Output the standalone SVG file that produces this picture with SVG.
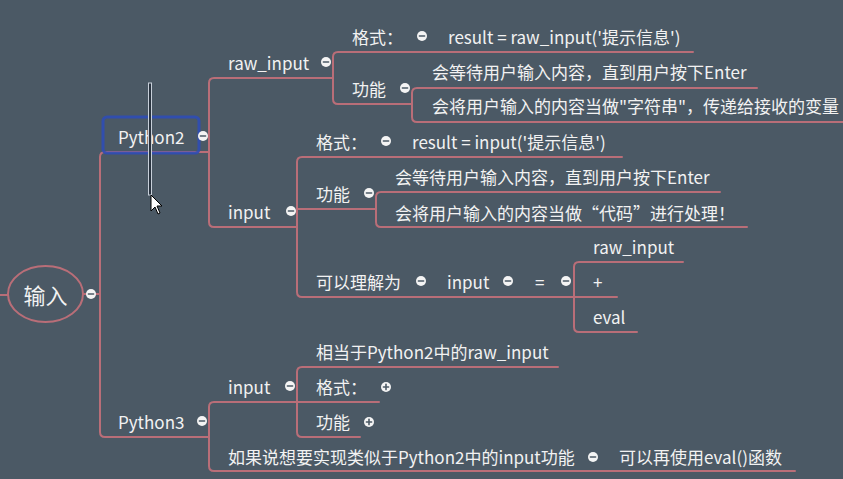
<svg xmlns="http://www.w3.org/2000/svg" width="843" height="479" viewBox="0 0 843 479">
<defs>
<style>
.bg{fill:#4b5965}
.ln{fill:none;stroke:#b96e78;stroke-width:2;stroke-linecap:round}
.t{font-family:"Noto Sans CJK SC","Noto Sans",sans-serif;font-size:17px;fill:#f2f2f2;dominant-baseline:central}
.root{font-size:22px;text-anchor:middle}
.dot{fill:#f4f4f4}
.mk{stroke:#4b5965;stroke-width:1.6;stroke-linecap:round}
</style>
<g id="minus"><circle class="dot" r="5"/><line class="mk" x1="-2.6" y1="0" x2="2.6" y2="0"/></g>
<g id="plus"><circle class="dot" r="5"/><line class="mk" x1="-2.6" y1="0" x2="2.6" y2="0"/><line class="mk" x1="0" y1="-2.6" x2="0" y2="2.6"/></g>
</defs>
<rect class="bg" x="0" y="0" width="843" height="479"/>

<g id="connectors">
<path class="ln" d="M0,295 H8"/>
<path class="ln" d="M83,294 H100"/>
<path class="ln" d="M209,152 H105 Q100,152 100,157 V432 Q100,437 105,437 H209"/>
<path class="ln" d="M333,78 H214 Q209,78 209,83 V222 Q209,227 214,227 H297"/>
<path class="ln" d="M693,52 H338 Q333,52 333,57 V99 Q333,104 338,104 H412"/>
<path class="ln" d="M757,88 H417 Q412,88 412,93 V117 Q412,122 417,122 H843"/>
<path class="ln" d="M622,157 H302 Q297,157 297,162 V292 Q297,297 302,297 H617"/>
<path class="ln" d="M297,209 H376"/>
<path class="ln" d="M720,192 H381 Q376,192 376,197 V222 Q376,227 381,227 H747"/>
<path class="ln" d="M683,262 H579 Q574,262 574,267 V327 Q574,332 579,332 H637"/>
<path class="ln" d="M297,402 H214 Q209,402 209,407 V466 Q209,471 214,471 H795"/>
<path class="ln" d="M558,367 H302 Q297,367 297,372 V432 Q297,437 302,437 H360"/>
<path class="ln" d="M297,402 H379"/>
</g>

<g id="root">
<ellipse cx="45.5" cy="294" rx="37.5" ry="28" fill="none" stroke="#b96e78" stroke-width="2"/>
<text class="t root" x="45.5" y="294">输入</text>
<use href="#minus" x="91" y="294"/>
</g>

<g id="python2">
<rect x="103" y="117" width="96" height="36" rx="4" fill="none" stroke="#2f4db5" stroke-width="3" opacity="0.9"/>
<text class="t" x="118" y="136">Python2</text>
<use href="#minus" x="203" y="136"/>
</g>

<g id="raw_input">
<text class="t" x="228" y="62">raw_input</text>
<use href="#minus" x="326" y="62"/>
</g>
<g id="raw_format">
<text class="t" x="352" y="36">格式：</text>
<use href="#minus" x="422" y="36"/>
</g>
<g id="raw_format_value">
<text class="t" x="448" y="36">result = raw_input('提示信息')</text>
</g>
<g id="raw_func">
<text class="t" x="352" y="88">功能</text>
<use href="#minus" x="405" y="88"/>
</g>
<g id="raw_func_1">
<text class="t" x="432" y="71">会等待用户输入内容，直到用户按下Enter</text>
</g>
<g id="raw_func_2">
<text class="t" x="432" y="105">会将用户输入的内容当做"字符串"，传递给接收的变量</text>
</g>

<g id="input2">
<text class="t" x="228" y="211">input</text>
<use href="#minus" x="291" y="211"/>
</g>
<g id="input2_format">
<text class="t" x="316" y="141">格式：</text>
<use href="#minus" x="386" y="141"/>
</g>
<g id="input2_format_value">
<text class="t" x="412" y="141">result = input('提示信息')</text>
</g>
<g id="input2_func">
<text class="t" x="316" y="193">功能</text>
<use href="#minus" x="369" y="193"/>
</g>
<g id="input2_func_1">
<text class="t" x="395" y="176">会等待用户输入内容，直到用户按下Enter</text>
</g>
<g id="input2_func_2">
<text class="t" x="395" y="212">会将用户输入的内容当做“代码”进行处理！</text>
</g>
<g id="understand">
<text class="t" x="316" y="281">可以理解为</text>
<use href="#minus" x="421" y="281"/>
</g>
<g id="understand_input">
<text class="t" x="447" y="281">input</text>
<use href="#minus" x="508" y="281"/>
</g>
<g id="understand_eq">
<text class="t" x="535" y="281">=</text>
<use href="#minus" x="566" y="281"/>
</g>
<g id="eq_raw_input"><text class="t" x="593" y="246">raw_input</text></g>
<g id="eq_plus"><text class="t" x="593" y="281">+</text></g>
<g id="eq_eval"><text class="t" x="593" y="316">eval</text></g>

<g id="python3">
<text class="t" x="118" y="421">Python3</text>
<use href="#minus" x="202" y="421"/>
</g>
<g id="input3">
<text class="t" x="228" y="386">input</text>
<use href="#minus" x="290" y="386"/>
</g>
<g id="input3_equiv"><text class="t" x="316" y="351">相当于Python2中的raw_input</text></g>
<g id="input3_format">
<text class="t" x="316" y="386">格式：</text>
<use href="#plus" x="386" y="387"/>
</g>
<g id="input3_func">
<text class="t" x="316" y="421">功能</text>
<use href="#plus" x="369" y="422"/>
</g>
<g id="python3_like">
<text class="t" x="228" y="456">如果说想要实现类似于Python2中的input功能</text>
<use href="#minus" x="593" y="457"/>
</g>
<g id="python3_eval"><text class="t" x="619" y="456">可以再使用eval()函数</text></g>

<g id="cursor">
<rect x="148.5" y="83" width="3" height="112" fill="#2a3440" stroke="#c8d0da" stroke-width="1"/>
<path d="M151,195 V211 L155,207 L158,214 L160,213 L157,206 L162,206 Z" fill="#fff" stroke="#000" stroke-width="1"/>
</g>
</svg>
